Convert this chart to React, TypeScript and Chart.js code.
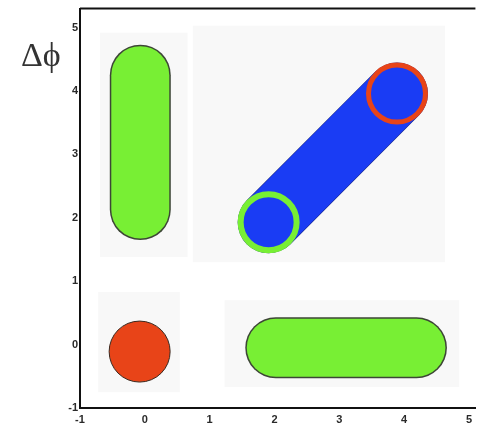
import React, { useEffect, useRef } from "react";
import { Chart, registerables } from "chart.js";

Chart.register(...registerables);

// Axis ticks
const xTickValues = [-1, 0, 1, 2, 3, 4, 5];
const yTickValues = [-1, 0, 1, 2, 3, 4, 5];
const yAxisLabel = "Δϕ";

// Shapes (data coordinates)
const verticalBarX = [-0.07, -0.07];
const verticalBarY = [2.13, 4.25];
const horizontalBarX = [2.02, 4.19];
const horizontalBarY = [-0.05, -0.05];
const diagonalBarX = [1.91, 3.89];
const diagonalBarY = [1.93, 3.96];
const dotX = [-0.08];
const dotY = [-0.11];
const startRingX = [1.91];
const startRingY = [1.93];
const endRingX = [3.89];
const endRingY = [3.96];

// Light panels behind each shape: [x0, x1, y0, y1]
const panelX0 = [-0.69, 0.74, -0.72, 1.23];
const panelX1 = [0.66, 4.63, 0.54, 4.85];
const panelY0 = [1.38, 1.3, -0.75, -0.67];
const panelY1 = [4.92, 5.03, 0.83, 0.7];

const pts = (xs: number[], ys: number[]) => xs.map((x, i) => ({ x, y: ys[i] }));

const GREEN = "#78ef34";
const RED = "#e84418";
const BLUE = "#1a3cf4";

export default function App() {
  const ref = useRef<HTMLCanvasElement>(null);
  useEffect(() => {
    if (!ref.current) return;
    const framePlugin = {
      id: "frame",
      beforeDatasetsDraw(chart: any) {
        const { ctx, scales } = chart;
        const xs = scales.x, ys = scales.y;
        ctx.save();
        ctx.fillStyle = "#f8f8f8";
        for (let i = 0; i < panelX0.length; i++) {
          const l = xs.getPixelForValue(panelX0[i]);
          const r = xs.getPixelForValue(panelX1[i]);
          const b = ys.getPixelForValue(panelY0[i]);
          const t = ys.getPixelForValue(panelY1[i]);
          ctx.fillRect(l, t, r - l, b - t);
        }
        ctx.restore();
      },
      afterDraw(chart: any) {
        const { ctx, chartArea } = chart;
        ctx.save();
        ctx.strokeStyle = "#111";
        ctx.lineWidth = 2;
        ctx.beginPath();
        ctx.moveTo(chartArea.left, chartArea.top);
        ctx.lineTo(chartArea.right, chartArea.top);
        ctx.stroke();
        ctx.fillStyle = "#333";
        ctx.font = '34px "Liberation Serif", serif';
        ctx.textAlign = "left";
        ctx.textBaseline = "alphabetic";
        ctx.fillText(yAxisLabel, 21, 66);
        ctx.restore();
      },
    };

    const capsule = (xs: number[], ys: number[], color: string, w: number, order: number) => ({
      type: "line",
      data: pts(xs, ys),
      borderColor: color,
      borderWidth: w,
      borderCapStyle: "round",
      pointRadius: 0,
      fill: false,
      order,
      clip: false,
    });

    const chart = new Chart(ref.current, {
      type: "scatter",
      data: {
        datasets: [
          capsule(verticalBarX, verticalBarY, "#3d4636", 61, 20),
          capsule(verticalBarX, verticalBarY, GREEN, 58, 19),
          capsule(horizontalBarX, horizontalBarY, "#3d4636", 61, 18),
          capsule(horizontalBarX, horizontalBarY, GREEN, 58, 17),
          capsule(diagonalBarX, diagonalBarY, "#1a2a90", 62, 16),
          capsule(diagonalBarX, diagonalBarY, BLUE, 61, 15),
          {
            type: "scatter",
            data: pts(dotX, dotY),
            backgroundColor: RED,
            borderColor: "#3a2a20",
            borderWidth: 1,
            pointRadius: 30.5,
            order: 10,
            clip: false,
          },
          {
            type: "scatter",
            data: pts(startRingX, startRingY),
            backgroundColor: "rgba(0,0,0,0)",
            borderColor: GREEN,
            borderWidth: 6,
            pointRadius: 28,
            order: 9,
            clip: false,
          },
          {
            type: "scatter",
            data: pts(endRingX, endRingY),
            backgroundColor: "rgba(0,0,0,0)",
            borderColor: RED,
            borderWidth: 5,
            pointRadius: 28.5,
            order: 8,
            clip: false,
          },
        ] as any,
      },
      options: {
        animation: false,
        responsive: false,
        events: [],
        layout: { autoPadding: false, padding: { top: 8, right: 0, left: 0, bottom: 0 } },
        plugins: { legend: { display: false }, tooltip: { enabled: false }, title: { display: false } },
        scales: {
          x: {
            type: "linear",
            min: -1,
            max: 5.1,
            afterFit: (s: any) => { s.height = 24; },
            afterBuildTicks: (s: any) => { s.ticks = xTickValues.map((v) => ({ value: v })); },
            ticks: {
              padding: 5,
              color: "#2a2a2a",
              font: { family: '"Liberation Sans", Arial', size: 11, weight: "bold" },
              maxRotation: 0,
              autoSkip: false,
            },
            grid: { display: false, drawTicks: false },
            border: { display: true, color: "#111", width: 2 },
          },
          y: {
            type: "linear",
            min: -1,
            max: 5.3,
            afterFit: (s: any) => { s.width = 80; },
            afterBuildTicks: (s: any) => { s.ticks = yTickValues.map((v) => ({ value: v })); },
            ticks: {
              padding: 2,
              color: "#2a2a2a",
              font: { family: '"Liberation Sans", Arial', size: 11, weight: "bold" },
              autoSkip: false,
            },
            grid: { display: false, drawTicks: false },
            border: { display: true, color: "#111", width: 2 },
          },
        },
      } as any,
      plugins: [framePlugin],
    });
    return () => chart.destroy();
  }, []);
  return (
    <div style={{ position: "absolute", left: 0, top: 0, width: 477, height: 432 }}>
      <canvas ref={ref} width={477} height={432} />
    </div>
  );
}
